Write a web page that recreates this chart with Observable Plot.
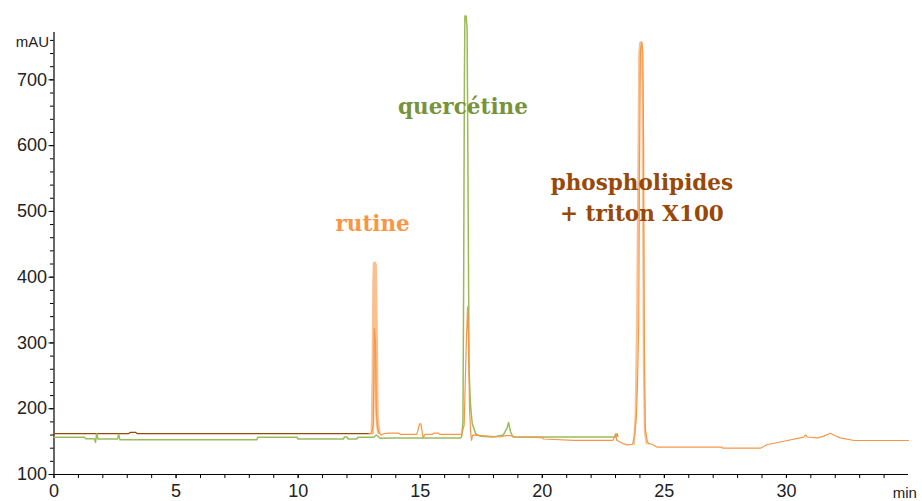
<!DOCTYPE html>
<html>
<head>
<meta charset="utf-8">
<script src="https://cdn.jsdelivr.net/npm/d3@7"></script>
<script src="https://cdn.jsdelivr.net/npm/@observablehq/plot@0.6"></script>
<style>
  html, body { margin: 0; padding: 0; background: #fff; }
</style>
</head>
<body>
<div id="chart"></div>
<script>
// Time (min) and absorbance (mAU)
const brownT = [0, 3.05, 3.12, 3.35, 3.42, 12.95];
const brownV = [162, 162, 164, 164, 162, 162];

const orangeT = [12.9, 13.0, 13.08, 13.12, 13.17, 13.2, 13.25, 13.3, 13.4, 13.5, 13.7, 14.1, 14.2, 14.85, 14.9, 14.97, 15.03, 15.08, 15.12, 15.2, 15.5, 15.55, 15.75, 15.8, 16.7, 16.8, 16.88, 16.94, 16.98, 17.02, 17.06, 17.1, 17.15, 17.5, 18.3, 18.5, 18.7, 18.9, 20.0, 20.05, 21.3, 22.9, 23.0, 23.05, 23.3, 23.5, 23.7, 23.78, 23.85, 23.9, 23.95, 23.98, 24.02, 24.08, 24.12, 24.15, 24.18, 24.22, 24.3, 24.36, 24.5, 24.71, 27.35, 27.4, 28.94, 29.22, 29.9, 30.7, 30.79, 30.85, 31.27, 31.5, 31.8, 32.0, 32.2, 32.77, 35];
const orangeV = [162, 163, 175, 322, 300, 200, 170, 165, 160, 162, 163, 163, 161, 161, 166, 177, 177, 165, 156, 161, 161, 163, 163, 161, 161, 175, 290, 355, 300, 200, 167, 152, 160, 159, 157, 159, 159, 157, 156, 154, 152, 152, 162, 152, 147, 145, 146, 160, 185, 237, 329, 550, 745, 757, 740, 600, 300, 170, 150, 147, 146, 141.5, 141.5, 140, 140, 145.6, 150.6, 156.7, 160.3, 157, 155.7, 158, 162.8, 159, 155.7, 151.7, 151.7];

// lighter orange trace visible on the two tall orange peaks
const lightRutT = [13.04, 13.08, 13.11, 13.13, 13.16, 13.19, 13.23, 13.3];
const lightRutV = [163, 260, 400, 421, 418, 330, 190, 164];
const lightPhoT = [23.76, 23.82, 23.88, 23.93, 23.97, 24.01, 24.06, 24.1, 24.13, 24.16, 24.2, 24.28];
const lightPhoV = [147, 190, 330, 560, 740, 757, 757, 700, 480, 260, 165, 147];

const greenT = [0, 1.25, 1.3, 1.65, 1.7, 1.75, 1.8, 2.6, 2.65, 2.7, 8.3, 8.35, 9.95, 10.0, 11.85, 11.9, 12.0, 12.05, 12.4, 12.45, 13.1, 13.2, 13.3, 13.35, 14.0, 16.65, 16.7, 16.75, 16.78, 16.81, 16.83, 16.88, 16.92, 16.95, 16.98, 17.0, 17.06, 17.13, 17.27, 17.47, 18.0, 18.4, 18.55, 18.62, 18.7, 18.8, 23.0, 23.07, 23.1];
const greenV = [156.7, 156.7, 154.2, 154.2, 149, 162, 154, 154, 161, 152.7, 152.7, 156.7, 156.7, 154, 154, 157, 157, 154, 154, 156.7, 156.7, 160, 157, 155, 155.5, 155.5, 158, 180, 400, 700, 797, 797, 780, 600, 400, 260, 205, 177.5, 162, 158, 157, 160, 170, 179, 165, 157, 157, 162, 158];

// Axis ticks
const yMajor = [100, 200, 300, 400, 500, 600, 700];
const yMinor = d3.range(100, 772, 20);
const xMajor = [0, 5, 10, 15, 20, 25, 30];
const xMinor = d3.range(0, 35, 1);

// Peak annotations
const labelText = ["rutine", "quercétine", "phospholipides", "+ triton X100"];
const labelT = [13.05, 16.75, 24.08, 24.08];
const labelV = [480, 659, 543, 496];
const labelColor = ["#F79646", "#77933C", "#984807", "#984807"];

const zip = (T, V) => T.map((t, i) => ({t, v: V[i]}));
const brown = zip(brownT, brownV);
const orange = zip(orangeT, orangeV);
const lightRut = zip(lightRutT, lightRutV);
const lightPho = zip(lightPhoT, lightPhoV);
const green = zip(greenT, greenV);
const labels = labelText.map((s, i) => ({s, t: labelT[i], v: labelV[i], c: labelColor[i]}));

const chart = Plot.plot({
  width: 922,
  height: 501,
  marginLeft: 53.5,
  marginRight: 14,
  marginTop: 32,
  marginBottom: 27,
  x: {domain: [0, 35], label: null},
  y: {domain: [100, 772], label: null},
  style: {fontFamily: "'Liberation Sans', Arial, sans-serif", fontSize: "18px", background: "#fff", color: "#222"},
  marks: [
    Plot.axisY(yMinor, {tickSize: 3.5, text: null, stroke: "#000", label: null}),
    Plot.axisY(yMajor, {tickSize: 5, tickPadding: 2, stroke: "#000", fill: "#222", fontSize: 18, label: null}),
    Plot.axisX(xMinor, {tickSize: 4, text: null, stroke: "#000", label: null}),
    Plot.axisX(xMajor, {tickSize: 4, tickPadding: 6, stroke: "#000", fill: "#222", fontSize: 18, label: null}),
    Plot.ruleX([0], {stroke: "#000", strokeWidth: 1.2}),
    Plot.ruleY([100], {stroke: "#000", strokeWidth: 1.2}),
    Plot.text(["mAU"], {x: 0, y: 757, dx: -5, textAnchor: "end", fontSize: 15, fill: "#222"}),
    Plot.text(["min"], {x: 34.85, y: 100, dy: 19, textAnchor: "middle", fontSize: 15, fill: "#222"}),
    Plot.line(brown, {x: "t", y: "v", stroke: "#984807", strokeWidth: 1.3}),
    Plot.line(green, {x: "t", y: "v", stroke: "#9BBB59", strokeWidth: 1.5}),
    Plot.line(lightRut, {x: "t", y: "v", stroke: "#FAC090", strokeWidth: 3.5}),
    Plot.line(lightPho, {x: "t", y: "v", stroke: "#FAC090", strokeWidth: 2}),
    Plot.line(orange, {x: "t", y: "v", stroke: "#F79646", strokeWidth: 1.2}),
    Plot.text(labels, {x: "t", y: "v", text: "s", fill: "c", fontFamily: "'DejaVu Serif', serif", fontWeight: "bold", fontSize: 21.5, textAnchor: "middle"})
  ]
});
document.getElementById("chart").appendChild(chart);
</script>
</body>
</html>
